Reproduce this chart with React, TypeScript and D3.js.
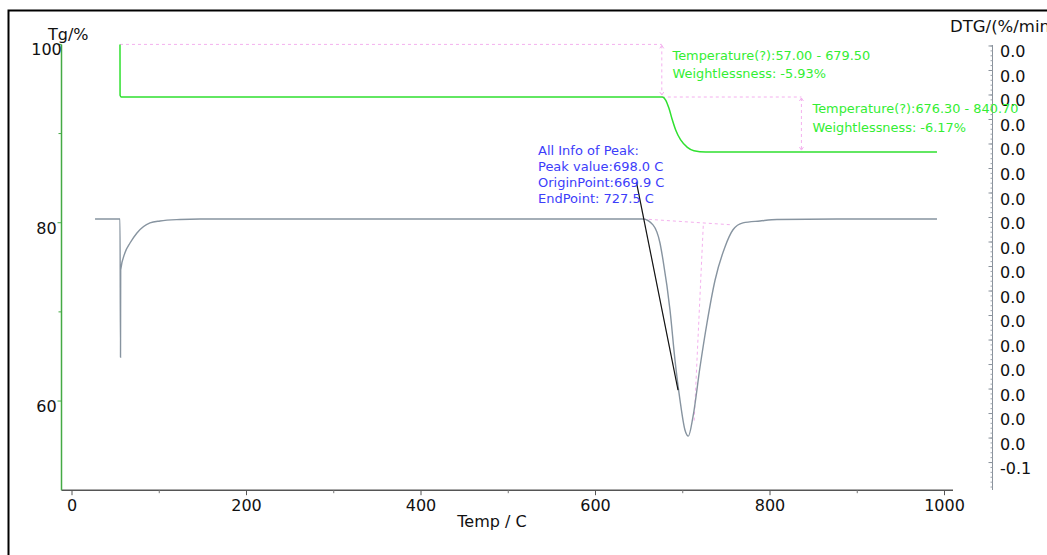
import React from 'react';
import * as d3 from 'd3';

const W = 1047;
const H = 555;

// axis ticks
const tempTicks = [0, 200, 400, 600, 800, 1000];
const tempMinorTicks = [100, 300, 500, 700, 900];
const tgTicks = [100, 80, 60];
const tgMinorTicks = [90, 70];
const dtgTickValues = [0.04, 0.035, 0.03, 0.025, 0.02, 0.015, 0.01, 0.005, 0, -0.005, -0.01, -0.015, -0.02, -0.025, -0.03, -0.035, -0.04, -0.045];
const dtgTickLabels = ['0.0', '0.0', '0.0', '0.0', '0.0', '0.0', '0.0', '0.0', '0.0', '0.0', '0.0', '0.0', '0.0', '0.0', '0.0', '0.0', '0.0', '-0.1'];

// TG curve (Temp °C, %)
const tgTemp = [55.0, 55.1, 56.5, 200, 400, 600, 676.6, 680.4, 684.2, 688.1, 691.9, 697.6, 705.3, 712.8, 726.3, 800, 900, 991.4];
const tgValue = [100, 94.3, 94.1, 94.1, 94.1, 94.1, 94.1, 93.76, 92.83, 91.52, 90.4, 89.28, 88.46, 88.08, 87.93, 87.92, 87.92, 87.92];

// DTG curve (Temp °C, %/min)
const dtgTemp = [26.4, 55.0, 55.6, 55.8, 60.7, 66.5, 74.2, 89.4, 100.9, 123.8, 146.7, 400, 654.4, 665.9, 673.9, 677.4, 685.4, 691.1, 696.8, 702.6, 706.4, 711.7, 719.8, 727.8, 737.0, 748.4, 757.6, 769.0, 788.5, 808.0, 900, 991.4];
const dtgValue = [0.0047, 0.0047, -0.0235, -0.0057, -0.0022, -0.0002, 0.0018, 0.0039, 0.0043, 0.0046, 0.0047, 0.0047, 0.0047, 0.0035, -0.0002, -0.0037, -0.0139, -0.0241, -0.0322, -0.0384, -0.0396, -0.0357, -0.0255, -0.0165, -0.0078, -0.001, 0.0025, 0.0039, 0.0043, 0.0046, 0.0047, 0.0047];

// annotations
const stepTemps = [55, 676, 836];
const stepLevels = [100, 94.1, 87.92];
const stepTexts = [
  ['Temperature(?):57.00 - 679.50', 'Weightlessness: -5.93%'],
  ['Temperature(?):676.30 - 840.70', 'Weightlessness: -6.17%'],
];
const peakTexts = ['All Info of Peak:', 'Peak value:698.0 C', 'OriginPoint:669.9 C', 'EndPoint: 727.5 C'];
const peakBaseline = [[654.4, 0.0047], [757.0, 0.0035]];
const peakDrop = [[723.5, 0.0033], [713.0, -0.0368]];
const peakPointer = [[646.9, 0.0122], [694.6, -0.0302]];

const FONT = 'DejaVu Sans';
const PINK = '#f4b0ee';
const GREEN_TXT = '#33ee33';

export default function App() {
  const x = d3.scaleLinear().domain([0, 1000]).range([72, 944.5]);
  const yTg = d3.scaleLinear().domain([50, 100]).range([490.2, 44.4]);
  const yDtg = d3.scaleLinear().domain([-0.0506, 0.0402]).range([490, 45]);

  const tgLine = d3.line<number>()
    .x((_, i) => x(tgTemp[i]))
    .y((d) => yTg(d))
    .curve(d3.curveMonotoneX);
  const dtgLine = d3.line<number>()
    .x((_, i) => x(dtgTemp[i]))
    .y((d) => yDtg(d))
    .curve(d3.curveMonotoneX);

  const axisLeftX = 61.5;
  const axisRightX = 992.5;
  const axisBottomY = yTg(50);

  const dtgMinor = d3.range(-50, 41, 1).map((k) => k / 1000);

  const arrow = (px: number, py: number, dir: number) =>
    `M${px - 2},${py + 3 * dir} L${px},${py} L${px + 2},${py + 3 * dir}`;

  return (
    <svg width={W} height={H} style={{ position: 'absolute', left: 0, top: 0, display: 'block', background: '#fff' }}
      fontFamily={FONT}>
      <rect x={0} y={0} width={W} height={H} fill="#fff" />
      {/* frame */}
      <rect x={8.5} y={10.5} width={1200} height={700} fill="none" stroke="#000" strokeWidth={2} />

      {/* X axis */}
      <line x1={axisLeftX} x2={953} y1={axisBottomY} y2={axisBottomY} stroke="#555" strokeWidth={1.5} />
      {tempTicks.map((t) => (
        <g key={'xt' + t}>
          <line x1={x(t)} x2={x(t)} y1={axisBottomY} y2={axisBottomY + 5} stroke="#555" strokeWidth={1} />
          <text x={x(t)} y={511} textAnchor="middle" fontSize={16} fill="#111">{t}</text>
        </g>
      ))}
      {tempMinorTicks.map((t) => (
        <line key={'xm' + t} x1={x(t)} x2={x(t)} y1={axisBottomY} y2={axisBottomY + 3} stroke="#777" strokeWidth={1} />
      ))}
      <text x={492} y={527} textAnchor="middle" fontSize={16} fill="#111">Temp / C</text>

      {/* Left TG axis */}
      <line x1={axisLeftX} x2={axisLeftX} y1={yTg(100)} y2={axisBottomY} stroke="#44aa44" strokeWidth={1.5} />
      {tgTicks.map((v) => (
        <g key={'ty' + v}>
          <line x1={axisLeftX - 4} x2={axisLeftX} y1={yTg(v)} y2={yTg(v)} stroke="#44aa44" strokeWidth={1} />
          <text x={46.5} y={yTg(v) + 11} textAnchor="middle" fontSize={16} fill="#111">{v}</text>
        </g>
      ))}
      {tgMinorTicks.map((v) => (
        <line key={'tm' + v} x1={axisLeftX - 3} x2={axisLeftX} y1={yTg(v)} y2={yTg(v)} stroke="#44aa44" strokeWidth={1} />
      ))}
      <text x={48} y={40} fontSize={16} fill="#111">Tg/%</text>

      {/* Right DTG axis */}
      <line x1={axisRightX} x2={axisRightX} y1={45} y2={490} stroke="#8a929c" strokeWidth={1} />
      {dtgMinor.map((v, i) => (
        <line key={'dm' + i} x1={axisRightX - 2} x2={axisRightX} y1={yDtg(v)} y2={yDtg(v)} stroke="#9aa2ac" strokeWidth={1} />
      ))}
      {dtgTickValues.map((v, i) => (
        <g key={'dt' + i}>
          <line x1={axisRightX - 4} x2={axisRightX} y1={yDtg(v)} y2={yDtg(v)} stroke="#8a929c" strokeWidth={1} />
          <text x={1000} y={yDtg(v) + 11.5} fontSize={16} fill="#111">{dtgTickLabels[i]}</text>
        </g>
      ))}
      <text x={950} y={32} fontSize={16.5} fill="#111">DTG/(%/min)</text>

      {/* TG step annotations */}
      {[0, 1].map((k) => {
        const t0 = stepTemps[k];
        const t1 = stepTemps[k + 1];
        const vTop = stepLevels[k];
        const vBot = stepLevels[k + 1];
        const xv = x(t1);
        return (
          <g key={'step' + k}>
            <line x1={x(t0)} x2={xv} y1={yTg(vTop)} y2={yTg(vTop)} stroke={PINK} strokeWidth={1} strokeDasharray="3,3" />
            <line x1={xv} x2={xv} y1={yTg(vTop) + 1} y2={yTg(vBot) - 2} stroke={PINK} strokeWidth={1} strokeDasharray="3,3" />
            <path d={arrow(xv, yTg(vTop) + 1, 1)} fill="none" stroke={PINK} strokeWidth={1} />
            <path d={arrow(xv, yTg(vBot) - 2, -1)} fill="none" stroke={PINK} strokeWidth={1} />
          </g>
        );
      })}

      {/* DTG peak annotations */}
      <line x1={x(peakBaseline[0][0])} y1={yDtg(peakBaseline[0][1])} x2={x(peakBaseline[1][0])} y2={yDtg(peakBaseline[1][1])}
        stroke={PINK} strokeWidth={1} strokeDasharray="3,3" />
      <line x1={x(peakDrop[0][0])} y1={yDtg(peakDrop[0][1])} x2={x(peakDrop[1][0])} y2={yDtg(peakDrop[1][1])}
        stroke={PINK} strokeWidth={1} strokeDasharray="3,3" />

      {/* curves */}
      <path d={dtgLine(dtgValue) || ''} fill="none" stroke="#8794a0" strokeWidth={1.4} />
      <path d={tgLine(tgValue) || ''} fill="none" stroke="#2fe02f" strokeWidth={1.5} />

      {/* pointer */}
      <line x1={x(peakPointer[0][0])} y1={yDtg(peakPointer[0][1])} x2={x(peakPointer[1][0])} y2={yDtg(peakPointer[1][1])}
        stroke="#111" strokeWidth={1.2} />

      {/* texts */}
      <text x={672.5} y={60} fontSize={12.9} fill={GREEN_TXT}>{stepTexts[0][0]}</text>
      <text x={672.5} y={78} fontSize={12.9} fill={GREEN_TXT}>{stepTexts[0][1]}</text>
      <text x={812.5} y={112.5} fontSize={12.9} fill={GREEN_TXT}>{stepTexts[1][0]}</text>
      <text x={812.5} y={132} fontSize={12.9} fill={GREEN_TXT}>{stepTexts[1][1]}</text>
      {peakTexts.map((s, i) => (
        <text key={'pk' + i} x={538} y={154.5 + i * 16} fontSize={13} fill="#3d3dfa">{s}</text>
      ))}
    </svg>
  );
}
